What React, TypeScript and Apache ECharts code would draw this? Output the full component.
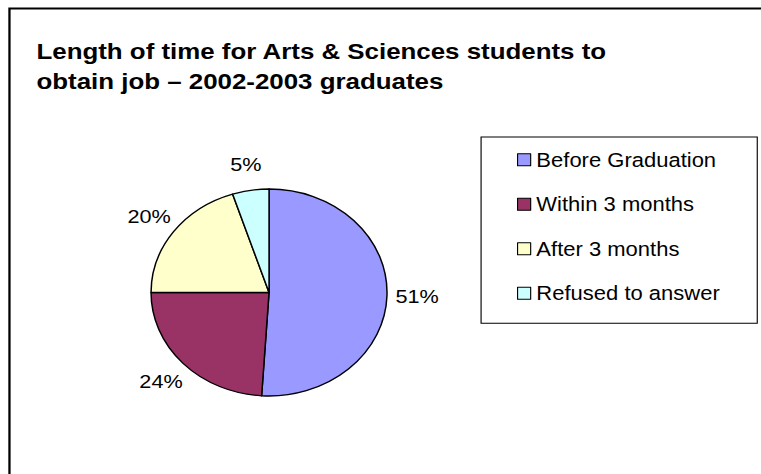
import { useEffect, useRef } from "react";
import * as echarts from "echarts";

const categories = ["Before Graduation", "Within 3 months", "After 3 months", "Refused to answer"];
const percentages = [51, 24, 20, 5];
const sliceColors = ["#9999FF", "#993366", "#FFFFCC", "#CCFFFF"];
const titleLines = ["Length of time for Arts & Sciences students to", "obtain job \u2013 2002-2003 graduates"];

const STRETCH = 1.14;
const W = 761;
const H = 474;
const FONT = "'Liberation Sans', Arial, Helvetica, sans-serif";

export default function App() {
  const ref = useRef<HTMLDivElement>(null);
  useEffect(() => {
    const chart = echarts.init(ref.current!, null, { renderer: "svg" });
    const sliceData = categories.map((name, i) => ({
      name,
      value: percentages[i],
      itemStyle: { color: sliceColors[i] },
    }));
    const labelData = categories.map((name, i) => ({ name, value: percentages[i] }));
    chart.setOption({
      animation: false,
      backgroundColor: "#ffffff",
      title: {
        text: titleLines.join("\n"),
        left: 32,
        top: 36,
        padding: 0,
        textStyle: { fontFamily: FONT, fontSize: 22.7, fontWeight: "bold", lineHeight: 30, color: "#000" },
      },
      legend: {
        orient: "vertical",
        left: 422,
        top: 137,
        data: categories,
        icon: "rect",
        itemWidth: 11.5,
        itemHeight: 12,
        itemGap: 25.2,
        padding: [13, 33, 20.4, 31.5],
        borderColor: "#000",
        borderWidth: 1,
        selectedMode: false,
        itemStyle: { borderColor: "#000", borderWidth: 1 },
        textStyle: { fontFamily: FONT, fontSize: 19.3, color: "#000", lineHeight: 19.3 },
      },
      graphic: [
        {
          type: "rect",
          silent: true,
          shape: { x: 8.3, y: 8.5, width: 1000, height: 1000 },
          style: { fill: "none", stroke: "#000", lineWidth: 2 },
        },
      ],
      series: [
        {
          type: "pie",
          center: [236, 292.5],
          radius: 103.5,
          startAngle: 90,
          clockwise: true,
          silent: true,
          avoidLabelOverlap: false,
          data: sliceData,
          label: { show: false },
          labelLine: { show: false },
          itemStyle: { borderColor: "#000", borderWidth: 1.3 },
          emphasis: { disabled: true },
        },
        {
          type: "pie",
          center: [236, 292.5],
          radius: [120, 134],
          startAngle: 90,
          clockwise: true,
          silent: true,
          avoidLabelOverlap: false,
          data: labelData,
          label: {
            show: true,
            position: "inside",
            formatter: "{c}%",
            fontFamily: FONT,
            fontSize: 19,
            color: "#000",
            rotate: 0,
          },
          labelLine: { show: false },
          itemStyle: { color: "rgba(0,0,0,0)", borderWidth: 0 },
          emphasis: { disabled: true },
        },
      ],
    });
    return () => chart.dispose();
  }, []);
  return (
    <div
      ref={ref}
      style={{
        position: "absolute",
        left: 0,
        top: 0,
        width: W / STRETCH,
        height: H,
        transform: `scaleX(${STRETCH})`,
        transformOrigin: "0 0",
      }}
    />
  );
}
